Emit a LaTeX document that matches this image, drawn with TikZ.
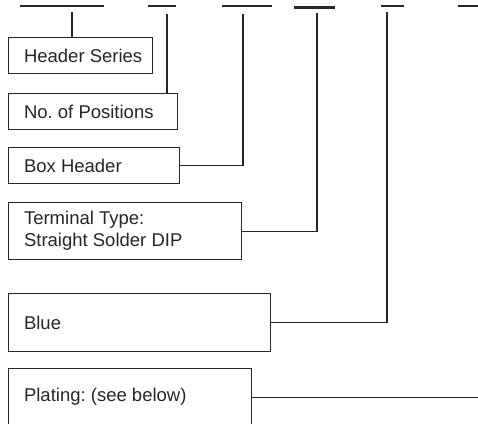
\documentclass[tikz,border=0pt]{standalone}
\usepackage{fontspec}
\setsansfont{Liberation Sans}
\frenchspacing

\begin{document}
\begin{tikzpicture}[x=1pt, y=-1pt,
    bar/.style={line width=2.8pt, color=black!85},
    partbox/.style={draw=black!85, line width=1.2pt, anchor=north west, inner sep=0pt},
    lbl/.style={anchor=west, xshift=12.5pt, align=left, text=black!85,
      font=\sffamily\fontsize{18.5}{22}\selectfont},
    lead/.style={line width=1.2pt, color=black!85}]
    \clip (0,0) rectangle (478,423);

    % code bars along the top
    \foreach \a/\b/\y in {20/104/6, 148/176/6, 222/272/6, 294/335/7.5, 381/404/6, 458/478/6}
      \draw[bar] (\a,\y)--(\b,\y);

    % boxes
    \node[partbox, minimum width=144pt, minimum height=36pt] (series) at (8,37) {};
    \node[lbl] at (series.west) {Header Series};
    \node[partbox, minimum width=169pt, minimum height=36pt] (positions) at (8,93) {};
    \node[lbl] at (positions.west) {No. of Positions};
    \node[partbox, minimum width=171pt, minimum height=36pt] (boxhdr) at (8,147) {};
    \node[lbl] at (boxhdr.west) {Box Header};
    \node[partbox, minimum width=233pt, minimum height=57pt] (terminal) at (8,202) {};
    \node[lbl] at (terminal.west) {Terminal Type:\\Straight Solder DIP};
    \node[partbox, minimum width=262pt, minimum height=58pt] (color) at (8,293) {};
    \node[lbl] at (color.west) {Blue};
    \node[partbox, minimum width=243pt, minimum height=57pt] (plating) at (8,368) {};
    \node[lbl] at (plating.west) {Plating: (see below)};

    % leads from the bars
    \coordinate (t1) at (72,12);
    \coordinate (t2) at (167,14);
    \coordinate (t3) at (243,14);
    \coordinate (t4) at (317,13);
    \coordinate (t5) at (387,12);
    \coordinate (t6) at (478,396);

    \draw[lead] (t1)--(t1 |- series.north);
    \draw[lead] (t2)--(t2 |- positions.north);
    \draw[lead] (t3) |- (boxhdr.east);
    \draw[lead] (t4) |- (terminal.east);
    \draw[lead] (t5) |- (color.east);
    \draw[lead] (plating.east)--(t6 |- plating.east);

  \end{tikzpicture}
\end{document}
